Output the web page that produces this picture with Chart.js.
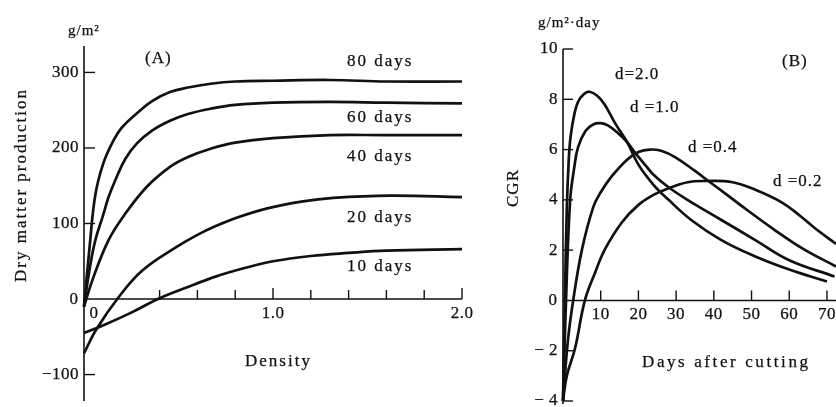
<!DOCTYPE html>
<html lang="en">
<head>
    <meta charset="UTF-8">
    <title>Dry matter production and CGR</title>
    <style>
        body { margin: 0; background: #fff; }
        #wrap { position: relative; width: 836px; height: 407px; overflow: hidden; }
        #chartA { position: absolute; left: 0; top: 0; }
        #chartB { position: absolute; left: 470px; top: 0; }
    </style>
</head>
<body>
    <div id="wrap">
        <canvas id="chartA" width="490" height="407"></canvas>
        <canvas id="chartB" width="366" height="407"></canvas>
    </div>

    <script src="https://cdn.jsdelivr.net/npm/chart.js"></script>

    <script>
        // ---- Panel A : dry matter production vs density ----
        const density80 = [0, 0.03, 0.06, 0.1, 0.15, 0.2, 0.28, 0.36, 0.455, 0.55, 0.67, 0.8, 1.0, 1.3, 1.6, 2.0];
        const prod80    = [-10, 70, 138, 178, 207, 227, 246, 262, 274, 280, 285, 288, 289, 290, 288, 288];

        const density60 = [0, 0.03, 0.06, 0.1, 0.13, 0.17, 0.22, 0.28, 0.36, 0.455, 0.55, 0.67, 0.8, 1.0, 1.3, 1.6, 2.0];
        const prod60    = [-10, 40, 78, 110, 135, 160, 186, 206, 223, 236, 245, 252, 257, 260, 261, 260, 259];

        const density40 = [0, 0.05, 0.13, 0.21, 0.33, 0.455, 0.55, 0.67, 0.8, 1.0, 1.3, 1.6, 2.0];
        const prod40    = [-10, 29, 78, 110, 148, 175, 188, 199, 207, 213, 217, 217, 217];

        const density20 = [0, 0.063, 0.185, 0.31, 0.49, 0.6, 0.7, 0.8, 0.97, 1.15, 1.32, 1.62, 2.0];
        const prod20    = [-72, -41, 3, 38, 69, 85, 97, 107, 120, 129, 134, 137, 135];

        const density10 = [0, 0.1, 0.25, 0.4, 0.55, 0.7, 0.85, 1.0, 1.2, 1.4, 1.6, 2.0];
        const prod10    = [-45, -35, -18, 1, 16, 30, 41, 50, 57, 61, 64, 66];

        const ticksAY = [300, 200, 100, -100];
        const labelsAY = ['300', '200', '100', '−100'];
        const ticksAX = [0.4, 0.6, 0.8, 1.0, 1.2, 1.4, 1.6, 1.8, 2.0];
        const labelsAX = { 0: '0', 1.0: '1.0', 2.0: '2.0' };

        // ---- Panel B : CGR vs days after cutting ----
        const daysD20 = [0, 0.5, 1, 1.5, 2, 3, 4, 5.5, 7, 9, 11, 14, 17, 20, 24, 28, 34, 42, 51, 60, 70];
        const cgrD20  = [-4, 0, 3.6, 5.5, 6.5, 7.4, 7.9, 8.2, 8.3, 8.15, 7.8, 7.0, 6.3, 5.4, 4.6, 4.0, 3.2, 2.4, 1.75, 1.23, 0.75];

        const daysD10 = [0, 0.8, 1.9, 3, 4, 6, 8, 10, 12, 14.6, 17, 19, 22, 24, 28, 33, 42, 51, 60, 72];
        const cgrD10  = [-4, 0, 4.0, 5.3, 6.1, 6.75, 7.0, 7.05, 6.95, 6.65, 6.3, 5.9, 5.35, 5.0, 4.5, 4.0, 3.2, 2.4, 1.6, 0.95];

        const daysD04 = [0, 1.3, 2.7, 5, 8, 10, 13, 17, 20, 23, 26, 29.7, 35, 39, 43.5, 47, 55.7, 63.7, 72.4];
        const cgrD04  = [-4, -1.6, 0, 2.0, 3.7, 4.3, 4.95, 5.6, 5.9, 6.0, 5.95, 5.7, 5.15, 4.7, 4.2, 3.8, 2.85, 2.05, 1.35];

        const daysD02 = [0, 1, 3.2, 5.8, 8.5, 11, 15.6, 20, 24, 27, 33, 38, 45, 51, 58, 63, 67, 72.4];
        const cgrD02  = [-4, -3.0, -1.9, 0, 1.1, 2.0, 3.1, 3.8, 4.2, 4.4, 4.7, 4.75, 4.7, 4.4, 3.9, 3.35, 2.85, 2.25];

        const ticksBY = [10, 8, 6, 4, 2, -2, -4];
        const labelsBY = ['10', '8', '6', '4', '2', '− 2', '− 4'];
        const ticksBX = [10, 20, 30, 40, 50, 60, 70];

        const ink = '#111';
        const serif = '"Liberation Serif", "DejaVu Serif", serif';

        function pts(xs, ys) {
            return xs.map((x, i) => ({ x: x, y: ys[i] }));
        }

        function curve(xs, ys) {
            return {
                data: pts(xs, ys),
                borderColor: ink,
                borderWidth: 2.7,
                pointRadius: 0,
                tension: 0.4,
                clip: 4
            };
        }

        function text(ctx, str, x, y, align, size, spacing, rotate) {
            ctx.save();
            ctx.fillStyle = ink;
            ctx.strokeStyle = ink;
            ctx.lineWidth = 0.25;
            ctx.font = size + 'px ' + serif;
            ctx.letterSpacing = (spacing || 0) + 'px';
            ctx.textAlign = align;
            ctx.textBaseline = 'middle';
            ctx.translate(x, y);
            if (rotate) ctx.rotate(-Math.PI / 2);
            ctx.fillText(str, 0, 0);
            ctx.strokeText(str, 0, 0);
            ctx.restore();
        }

        function line(ctx, x1, y1, x2, y2, w) {
            ctx.beginPath();
            ctx.moveTo(x1, y1);
            ctx.lineTo(x2, y2);
            ctx.lineWidth = w;
            ctx.strokeStyle = ink;
            ctx.stroke();
        }

        const frameA = {
            id: 'frameA',
            afterDraw(chart) {
                const ctx = chart.ctx;
                const xs = chart.scales.x, ys = chart.scales.y;
                const x0 = xs.getPixelForValue(0), y0 = ys.getPixelForValue(0);

                // axes
                line(ctx, x0, chart.chartArea.top, x0, chart.chartArea.bottom, 1.6);
                line(ctx, x0, y0, xs.getPixelForValue(2.0), y0, 1.6);

                ticksAY.forEach((v, i) => {
                    const py = ys.getPixelForValue(v);
                    line(ctx, x0, py, x0 + 11, py, 1.4);
                    text(ctx, labelsAY[i], x0 - 5, py, 'right', 17, 0.5);
                });
                text(ctx, '0', x0 - 6, y0, 'right', 17, 0);

                ticksAX.forEach(v => {
                    const px = xs.getPixelForValue(v);
                    const len = (v === 1.0 || v === 2.0) ? 11 : 9;
                    line(ctx, px, y0, px, y0 - len, 1.4);
                });
                Object.keys(labelsAX).forEach(k => {
                    const v = parseFloat(k);
                    let px = xs.getPixelForValue(v);
                    if (v === 0) px += 10;
                    text(ctx, labelsAX[k], px, y0 + 14, 'center', 17, 0.5);
                });

                // titles and curve labels
                text(ctx, 'g/m²', 68, 31, 'left', 15, 1);
                text(ctx, '(A)', 145, 59, 'left', 17, 1);
                text(ctx, 'Dry matter production', 22, 185, 'center', 17, 2, true);
                text(ctx, 'Density', 245, 362, 'left', 17, 2);
                text(ctx, '80 days', 347, 62, 'left', 17, 2);
                text(ctx, '60 days', 347, 118, 'left', 17, 2);
                text(ctx, '40 days', 347, 157, 'left', 17, 2);
                text(ctx, '20 days', 347, 218, 'left', 17, 2);
                text(ctx, '10 days', 347, 267, 'left', 17, 2);
            }
        };

        const frameB = {
            id: 'frameB',
            afterDraw(chart) {
                const ctx = chart.ctx;
                const xs = chart.scales.x, ys = chart.scales.y;
                const x0 = xs.getPixelForValue(0), y0 = ys.getPixelForValue(0);

                line(ctx, x0, chart.chartArea.top, x0, chart.chartArea.bottom + 3, 1.6);
                line(ctx, x0, y0, chart.chartArea.right, y0, 1.6);

                ticksBY.forEach((v, i) => {
                    const py = ys.getPixelForValue(v);
                    line(ctx, x0, py, x0 + 10, py, 1.4);
                    text(ctx, labelsBY[i], x0 - 5, py, 'right', 17, 0.5);
                });
                text(ctx, '0', x0 - 6, y0, 'right', 17, 0);

                ticksBX.forEach(v => {
                    const px = xs.getPixelForValue(v);
                    line(ctx, px, y0, px, y0 - 10, 1.4);
                    text(ctx, String(v), px, y0 + 14, 'center', 17, 0.5);
                });

                // local coordinates (canvas starts at page x = 470)
                text(ctx, 'g/m²·day', 68, 23, 'left', 15, 1);
                text(ctx, '(B)', 312, 62, 'left', 17, 1);
                text(ctx, 'CGR', 44, 188, 'center', 17, 1, true);
                text(ctx, 'Days after cutting', 172, 363, 'left', 17, 2.6);
                text(ctx, 'd=2.0', 145, 75, 'left', 17, 1);
                text(ctx, 'd =1.0', 160, 108, 'left', 17, 1);
                text(ctx, 'd =0.4', 218, 148, 'left', 17, 1);
                text(ctx, 'd =0.2', 303, 182, 'left', 17, 1);
            }
        };

        const common = {
            responsive: false,
            animation: false,
            devicePixelRatio: 1,
            plugins: { legend: { display: false }, tooltip: { enabled: false } }
        };

        new Chart(document.getElementById('chartA'), {
            type: 'line',
            data: {
                datasets: [
                    curve(density80, prod80),
                    curve(density60, prod60),
                    curve(density40, prod40),
                    curve(density20, prod20),
                    curve(density10, prod10)
                ]
            },
            options: Object.assign({}, common, {
                layout: { padding: { left: 84, right: 28, top: 46, bottom: 6 } },
                scales: {
                    x: { type: 'linear', min: 0, max: 2.0, display: false },
                    y: { type: 'linear', min: -135, max: 335, display: false }
                }
            }),
            plugins: [frameA]
        });

        new Chart(document.getElementById('chartB'), {
            type: 'line',
            data: {
                datasets: [
                    curve(daysD20, cgrD20),
                    curve(daysD10, cgrD10),
                    curve(daysD04, cgrD04),
                    curve(daysD02, cgrD02)
                ]
            },
            options: Object.assign({}, common, {
                layout: { padding: { left: 93, right: 0, top: 49, bottom: 6 } },
                scales: {
                    x: { type: 'linear', min: 0, max: 72.4, display: false },
                    y: { type: 'linear', min: -4, max: 10, display: false }
                }
            }),
            plugins: [frameB]
        });
    </script>
</body>
</html>
